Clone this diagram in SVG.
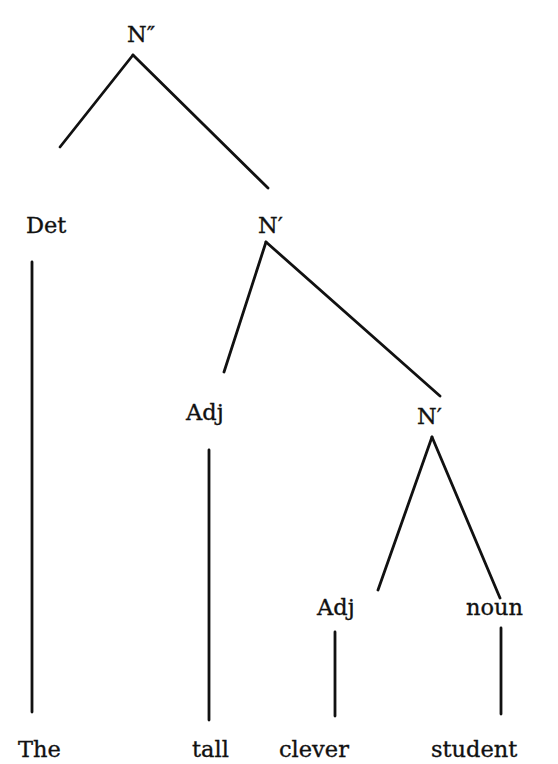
<svg xmlns="http://www.w3.org/2000/svg" width="558" height="764" viewBox="0 0 558 764">
<style>
  .lbl { font-family: "DejaVu Serif", "Liberation Serif", serif; font-size: 22.5px; fill: #111; stroke: #111; stroke-width: 0.35; }
  .edge { stroke: #111; stroke-width: 2.8; stroke-linecap: round; fill: none; }
</style>
<rect width="558" height="764" fill="#fff"/>
<g id="connectors">
  <line class="edge" x1="133" y1="55" x2="60" y2="147"/>
  <line class="edge" x1="133" y1="55" x2="268" y2="188"/>
  <line class="edge" x1="32" y1="262" x2="32" y2="712"/>
  <line class="edge" x1="266" y1="242" x2="224" y2="372"/>
  <line class="edge" x1="266" y1="242" x2="440" y2="396"/>
  <line class="edge" x1="209" y1="450" x2="209" y2="720"/>
  <line class="edge" x1="432" y1="437" x2="378" y2="590"/>
  <line class="edge" x1="432" y1="437" x2="500" y2="598"/>
  <line class="edge" x1="335" y1="632" x2="335" y2="716"/>
  <line class="edge" x1="501" y1="628" x2="501" y2="714"/>
</g>
<g id="n2"><text class="lbl" x="127" y="42">N″</text></g>
<g id="det"><text class="lbl" x="26" y="233">Det</text></g>
<g id="n1a"><text class="lbl" x="258" y="233">N′</text></g>
<g id="adj1"><text class="lbl" x="186" y="420">Adj</text></g>
<g id="n1b"><text class="lbl" x="417" y="424">N′</text></g>
<g id="adj2"><text class="lbl" x="317" y="615">Adj</text></g>
<g id="noun"><text class="lbl" x="466" y="615">noun</text></g>
<g id="the"><text class="lbl" x="18" y="757">The</text></g>
<g id="tall"><text class="lbl" x="192" y="757">tall</text></g>
<g id="clever"><text class="lbl" x="279" y="757">clever</text></g>
<g id="student"><text class="lbl" x="431" y="757">student</text></g>
</svg>
